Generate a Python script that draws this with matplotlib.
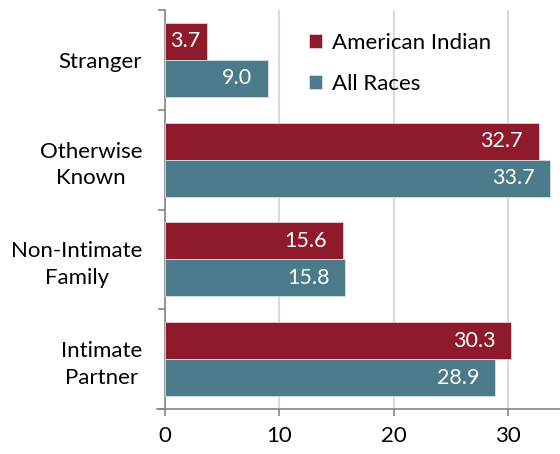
import matplotlib
matplotlib.use("Agg")
import matplotlib.pyplot as plt
from matplotlib.lines import Line2D

categories = ["Stranger", "Otherwise\nKnown", "Non-Intimate\nFamily", "Intimate\nPartner"]
american_indian = [3.7, 32.7, 15.6, 30.3]
all_races = [9.0, 33.7, 15.8, 28.9]
series_names = ["American Indian", "All Races"]
xticks = [0, 10, 20, 30]

RED = "#8E1A2C"
TEAL = "#4B7B8A"
GRID = "#D9D9D9"
SPINE = "#868686"

plt.rcParams['font.family'] = ['Lato', 'DejaVu Sans']

fig = plt.figure(figsize=(5.6, 4.54), dpi=100)
ax = fig.add_axes([164.5 / 560, 1 - 409 / 454, 1 - 164.5 / 560, (409 - 10) / 454])

n = len(categories)
ypos = [n - 1 - i for i in range(n)]
h = 0.372

bars_r = ax.barh([y + h / 2 for y in ypos], american_indian, height=h, color=RED,
                 edgecolor="#E8D0D4", linewidth=0.6, label=series_names[0], zorder=3)
bars_t = ax.barh([y - h / 2 for y in ypos], all_races, height=h, color=TEAL,
                 edgecolor="#D6E2E6", linewidth=0.6, label=series_names[1], zorder=3)

for bars, vals in ((bars_r, american_indian), (bars_t, all_races)):
    for b, v in zip(bars, vals):
        yc = b.get_y() + b.get_height() / 2
        if v < 5:
            ax.text(v / 2, yc, f"{v:.1f}", ha="center", va="center", color="white",
                    fontsize=15.5, zorder=4)
        else:
            ax.annotate(f"{v:.1f}", (v, yc), xytext=(-11.5, 0), textcoords="offset points",
                        ha="right", va="center", color="white", fontsize=15.5, zorder=4)

ax.set_xlim(0, 34.54)
ax.set_ylim(-0.5, n - 0.5)

ax.set_xticks(xticks)
ax.set_xticklabels([str(t) for t in xticks], fontsize=16)
ax.tick_params(axis="x", direction="out", length=5, width=1.2, color=SPINE, pad=7)

ax.set_yticks([i - 0.5 for i in range(n + 1)])
ax.set_yticklabels([])
ax.set_yticks(ypos, minor=True)
ax.set_yticklabels(categories, minor=True, fontsize=16)
ax.tick_params(axis="y", which="major", direction="out", length=5, width=1.2, color=SPINE)
ax.tick_params(axis="y", which="minor", length=0, pad=16)
for t in ax.get_yticklabels(minor=True):
    t.set_multialignment("center")
    t.set_linespacing(1.4)

ax.grid(axis="x", color=GRID, linewidth=1.5, zorder=0)
ax.set_axisbelow(True)

for s in ("top", "right"):
    ax.spines[s].set_visible(False)
for s in ("left", "bottom"):
    ax.spines[s].set_color(SPINE)
    ax.spines[s].set_linewidth(1.2)

ax.add_line(Line2D([-8 / 395.5, 0], [0, 0], transform=ax.transAxes, color=SPINE,
                   linewidth=1.2, clip_on=False))

leg = ax.legend(loc="upper left", bbox_to_anchor=(0.342, 0.965), frameon=False,
                fontsize=16, handlelength=0.6, handleheight=0.6, handletextpad=0.45,
                labelspacing=0.95, borderaxespad=0)

fig.savefig("out.png", dpi=100)
